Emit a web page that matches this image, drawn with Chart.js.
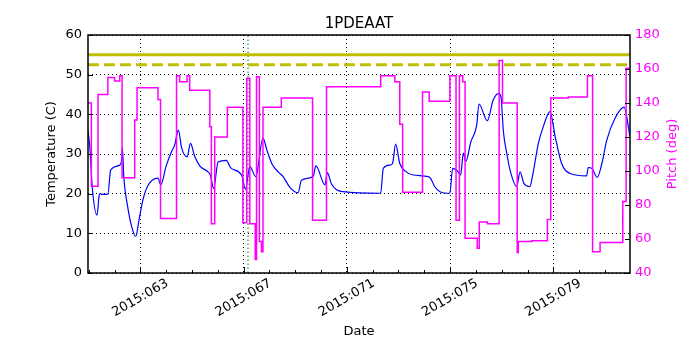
<!DOCTYPE html>
<html>
<head>
<meta charset="utf-8">
<script src="https://cdn.jsdelivr.net/npm/chart.js@4"></script>
<style>
  html, body { margin: 0; padding: 0; background: #fff; }
  #c { display: block; }
</style>
</head>
<body>
<canvas id="c" width="700" height="350"></canvas>
<script>
// x values are fractional day-of-year in 2015
var tempDays = [60.97, 61.05, 61.13, 61.32, 61.40, 61.45, 61.50, 61.74, 61.85, 62.20, 62.28, 62.30, 62.36, 62.50, 62.65, 62.82,
  62.95, 63.10, 63.29, 63.68, 63.79, 64.00, 64.20, 64.33, 64.47, 64.60, 64.81, 64.94, 65.10, 65.30, 65.62, 65.71,
  65.84, 66.01, 66.33, 66.50, 66.92, 67.07, 67.24, 67.47, 67.75, 67.90, 68.10, 68.40, 68.53, 68.80, 69.11, 69.24,
  69.69, 69.80, 70.15, 70.24, 70.40, 70.60, 70.86, 72.31, 72.41, 72.67, 72.77, 72.89, 73.05, 73.30, 73.57, 74.15,
  74.25, 74.40, 74.61, 74.99, 75.10, 75.30, 75.41, 75.51, 75.61, 75.80, 76.03, 76.12, 76.44, 76.67, 76.89, 76.98,
  77.06, 77.20, 77.32, 77.58, 77.71, 77.86, 78.09, 78.20, 78.42, 78.61, 78.87, 79.07, 79.32, 79.65, 80.29, 80.35,
  80.50, 80.70, 80.88, 81.07, 81.39, 81.74, 81.97];
var tempValues = [36, 31, 22, 14.6, 19.5, 20.1, 19.8, 19.9, 26.0, 27.2, 29, 31.7, 23.9, 17, 12, 9.2,
  13.5, 18.5, 22.0, 23.9, 22.2, 27, 30.5, 32.3, 36.0, 31.5, 29.3, 32.7, 29.5, 27, 25.5, 24.7,
  21.3, 28.0, 28.4, 26.5, 24.7, 21.1, 26.8, 24.3, 34.0, 31, 27.5, 25.1, 24.3, 21.5, 20.2, 23.4,
  24.3, 27.0, 22.2, 25.3, 22.5, 21, 20.5, 20.1, 26.4, 27.2, 27.6, 32.5, 27.6, 25.5, 24.7, 24.3,
  23.8, 21.8, 20.5, 20.1, 26.4, 25.6, 24.7, 30.2, 28.1, 33, 37.3, 42.6, 38.4, 43.6, 45.3, 44,
  36.0, 30, 26.0, 21.8, 25.5, 22.6, 21.8, 24.7, 32.7, 36.9, 40.7, 34.4, 27.6, 25.1, 24.5, 26.6,
  26.3, 24.1, 27.6, 33.5, 39.0, 41.8, 34.4];

var pitchDays = [60.97, 61.10, 61.36, 61.74, 62.00, 62.20, 62.29, 62.78, 62.87, 63.68, 63.78, 64.40, 64.52, 64.81, 64.91,
  65.69, 65.75, 65.88, 66.37, 66.97, 67.12, 67.24, 67.45, 67.50, 67.61, 67.69, 67.75, 68.46, 69.67, 70.21,
  72.31, 72.86, 73.05, 73.16, 73.93, 74.19, 74.99, 75.23, 75.36, 75.49, 75.58, 76.05, 76.13, 76.44, 76.90,
  77.03, 77.60, 77.64, 78.16, 78.77, 78.90, 79.58, 80.32, 80.52, 80.81, 81.69, 81.82, 81.97];
var pitchValues = [140, 91, 145, 155, 153, 156, 96, 130, 149, 142, 72, 156, 152.5, 156, 147.5,
  126, 69, 120, 137.5, 69.5, 154.5, 69, 48, 155.5, 58.5, 52.5, 137.5, 143, 71, 149.5,
  156, 152.5, 127.5, 87.5, 146.5, 141, 156, 71, 156, 152.5, 60.5, 54.5, 70, 69, 165,
  140, 52, 58.5, 59, 71.5, 143, 143.5, 156, 52.5, 58, 82, 160.5, 160.5];

var tempLimit = 55;
var tempPlanLimit = 52.5;
var eventDay = 67.17;
var xMin = 60.97, xMax = 81.97;
var tickDays = [63, 67, 71, 75, 79];
var tickLabels = ['2015:063', '2015:067', '2015:071', '2015:075', '2015:079'];
var chartTitle = '1PDEAAT';

function pts(xs, ys) {
  return xs.map(function (x, i) { return { x: x, y: ys[i] }; });
}

Chart.defaults.font.family = 'DejaVu Sans';
Chart.defaults.font.size = 13;
Chart.defaults.color = '#000';

// frame, inward ticks, rotated date labels, title and right axis title
var decor = {
  id: 'decor',
  afterDatasetsDraw: function (chart) {
    var ctx = chart.ctx, a = chart.chartArea;
    var xs = chart.scales.x, ys = chart.scales.y, y2 = chart.scales.y2;
    ctx.save();
    ctx.strokeStyle = '#000';
    ctx.lineWidth = 1;
    ctx.beginPath();
    for (var d = Math.ceil(xMin); d <= xMax; d++) {
      var px = Math.round(xs.getPixelForValue(d)) + 0.5;
      var len = tickDays.indexOf(d) >= 0 ? 6 : 3;
      ctx.moveTo(px, a.bottom); ctx.lineTo(px, a.bottom - len);
    }
    for (var v = 0; v <= 60; v += 10) {
      var py = Math.round(ys.getPixelForValue(v)) + 0.5;
      ctx.moveTo(a.left, py); ctx.lineTo(a.left + 5, py);
    }
    for (var p = 40; p <= 180; p += 20) {
      var py2 = Math.round(y2.getPixelForValue(p)) + 0.5;
      ctx.moveTo(a.right, py2); ctx.lineTo(a.right - 5, py2);
    }
    ctx.stroke();
    ctx.lineWidth = 1.5;
    ctx.strokeRect(a.left, a.top, a.right - a.left, a.bottom - a.top);

    ctx.fillStyle = '#000';
    ctx.font = '13px "DejaVu Sans"';
    ctx.textAlign = 'center';
    ctx.textBaseline = 'middle';
    tickDays.forEach(function (d, i) {
      ctx.save();
      ctx.translate(xs.getPixelForValue(d), a.bottom + 25);
      ctx.rotate(-Math.PI / 6);
      ctx.fillText(tickLabels[i], 0, 0);
      ctx.restore();
    });

    ctx.font = '15px "DejaVu Sans"';
    ctx.textBaseline = 'alphabetic';
    ctx.fillText(chartTitle, (a.left + a.right) / 2, 27.5);

    ctx.save();
    ctx.fillStyle = '#ff00ff';
    ctx.font = '13px "DejaVu Sans"';
    ctx.textBaseline = 'middle';
    ctx.translate(673, (a.top + a.bottom) / 2);
    ctx.rotate(-Math.PI / 2);
    ctx.fillText('Pitch (deg)', 0, 0);
    ctx.restore();
    ctx.restore();
  }
};

new Chart(document.getElementById('c').getContext('2d'), {
  type: 'line',
  data: {
    datasets: [{
      label: 'Pitch',
      data: pts(pitchDays, pitchValues),
      yAxisID: 'y2',
      borderColor: '#ff00ff',
      borderWidth: 1.5,
      stepped: 'before',
      pointRadius: 0,
      fill: false,
      order: 0
    }, {
      label: '1PDEAAT',
      data: pts(tempDays, tempValues),
      yAxisID: 'y',
      borderColor: '#0000ff',
      borderWidth: 1.2,
      cubicInterpolationMode: 'monotone',
      pointRadius: 0,
      fill: false,
      order: 1
    }, {
      label: 'limit',
      data: [{ x: xMin, y: tempLimit }, { x: xMax, y: tempLimit }],
      yAxisID: 'y',
      borderColor: '#bfbf00',
      borderWidth: 3,
      pointRadius: 0,
      order: 2
    }, {
      label: 'planning limit',
      data: [{ x: xMin, y: tempPlanLimit }, { x: xMax, y: tempPlanLimit }],
      yAxisID: 'y',
      borderColor: '#bfbf00',
      borderWidth: 3,
      borderDash: [11, 5],
      pointRadius: 0,
      order: 2
    }, {
      label: 'event',
      data: [{ x: eventDay, y: 0 }, { x: eventDay, y: 60 }],
      yAxisID: 'y',
      borderColor: '#008000',
      borderWidth: 1,
      borderDash: [1.5, 2.5],
      pointRadius: 0,
      order: 2
    }]
  },
  options: {
    responsive: false,
    animation: false,
    devicePixelRatio: 1,
    layout: { padding: { top: 35, left: 0, right: 0, bottom: 0 } },
    plugins: {
      legend: { display: false },
      tooltip: { enabled: false },
      title: { display: false }
    },
    scales: {
      x: {
        type: 'linear',
        position: 'bottom',
        min: xMin,
        max: xMax,
        afterBuildTicks: function (scale) {
          var t = [];
          for (var d = Math.ceil(xMin); d <= xMax; d++) t.push({ value: d });
          scale.ticks = t;
        },
        ticks: { display: false },
        grid: {
          drawTicks: false,
          lineWidth: 1,
          color: function (c) {
            return c.tick && tickDays.indexOf(c.tick.value) >= 0 ? '#000' : 'rgba(0,0,0,0)';
          }
        },
        border: { display: false, dash: [1, 3] },
        title: { display: true, text: 'Date', padding: { top: 0, bottom: 11 } },
        afterFit: function (scale) { scale.height = 77; }
      },
      y: {
        position: 'left',
        min: 0,
        max: 60,
        ticks: { stepSize: 10, padding: 6, color: '#000' },
        grid: { drawTicks: false, color: '#000', lineWidth: 1 },
        border: { display: false, dash: [1, 3] },
        title: { display: true, text: 'Temperature (C)', padding: { top: 44, bottom: 0 } },
        afterFit: function (scale) { scale.width = 88; }
      },
      y2: {
        position: 'right',
        min: 40,
        max: 180,
        ticks: { stepSize: 20, padding: 5, color: '#ff00ff' },
        grid: { display: false, drawTicks: false },
        border: { display: false },
        afterFit: function (scale) { scale.width = 70; }
      }
    }
  },
  plugins: [decor]
});
</script>
</body>
</html>
